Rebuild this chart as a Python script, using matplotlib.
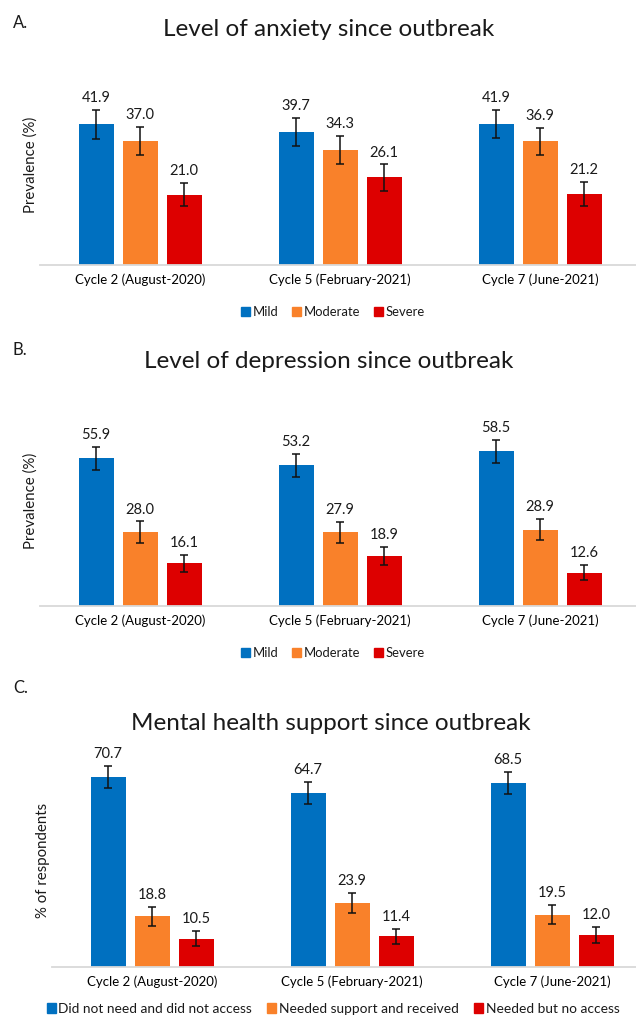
import matplotlib.pyplot as plt
import numpy as np
from matplotlib.patches import Patch

plt.rcParams["font.family"] = ["Lato", "DejaVu Sans"]
plt.rcParams["text.color"] = "#1a1a1a"

cycles = ["Cycle 2 (August-2020)", "Cycle 5 (February-2021)", "Cycle 7 (June-2021)"]
colors = ["#0070C0", "#F9812A", "#DD0000"]

# A. anxiety
anx_labels = ["Mild", "Moderate", "Severe"]
anx_mild = [41.9, 39.7, 41.9]
anx_moderate = [37.0, 34.3, 36.9]
anx_severe = [21.0, 26.1, 21.2]
anx_mild_err = [4.3, 4.2, 4.2]
anx_moderate_err = [4.2, 4.1, 4.0]
anx_severe_err = [3.5, 3.9, 3.5]

# B. depression
dep_labels = ["Mild", "Moderate", "Severe"]
dep_mild = [55.9, 53.2, 58.5]
dep_moderate = [28.0, 27.9, 28.9]
dep_severe = [16.1, 18.9, 12.6]
dep_mild_err = [4.3, 4.3, 4.4]
dep_moderate_err = [4.0, 3.9, 3.9]
dep_severe_err = [3.2, 3.3, 2.9]

# C. mental health support
sup_labels = ["Did not need and did not access", "Needed support and received", "Needed but no access"]
sup_none = [70.7, 64.7, 68.5]
sup_received = [18.8, 23.9, 19.5]
sup_noaccess = [10.5, 11.4, 12.0]
sup_none_err = [4.1, 4.1, 4.1]
sup_received_err = [3.5, 3.7, 3.5]
sup_noaccess_err = [2.8, 2.7, 2.9]

W, H = 636, 1016
fig = plt.figure(figsize=(W / 100, H / 100), dpi=100)


def px_axes(left, base, width, height):
    return fig.add_axes([left / W, (H - base) / H, width / W, height / H])


def panel(ax, series, errs, ymax, xmax):
    x = np.arange(len(cycles))
    bw, off = 0.175, 0.22
    for i, (vals, err) in enumerate(zip(series, errs)):
        pos = x + (i - 1) * off
        ax.bar(pos, vals, bw, color=colors[i], yerr=err,
               error_kw=dict(ecolor="#111111", elinewidth=1.1, capsize=3, capthick=1.1))
        for p, v, e in zip(pos, vals, err):
            ax.annotate("%.1f" % v, (p, v + e), xytext=(0, 8.5), textcoords="offset points",
                        ha="center", va="center", fontsize=10.5)
    ax.set_xlim(-0.5, xmax)
    ax.set_ylim(0, ymax)
    ax.set_xticks(x)
    ax.set_xticklabels(cycles, fontsize=9.5)
    ax.tick_params(axis="x", length=0, pad=6)
    ax.set_yticks([])
    for s in ["top", "right", "left"]:
        ax.spines[s].set_visible(False)
    ax.spines["bottom"].set_color("#D9D9D9")
    ax.spines["bottom"].set_linewidth(1.3)


def legend(labels, y, size):
    handles = [Patch(color=c, label=l) for c, l in zip(colors, labels)]
    fig.legend(handles=handles, loc="center", bbox_to_anchor=(333 / W, 1 - y / H), ncol=3,
               frameon=False, fontsize=size, handlelength=0.65, handleheight=0.7,
               handletextpad=0.2, columnspacing=1.1)


def txt(x, y, s, **kw):
    fig.text(x / W, 1 - y / H, s, **kw)


# panel A
axA = px_axes(40, 265, 596, 200)
panel(axA, [anx_mild, anx_moderate, anx_severe],
      [anx_mild_err, anx_moderate_err, anx_severe_err], 59.6, 2.48)
txt(13, 23, "A.", fontsize=12, va="center")
txt(329, 30, "Level of anxiety since outbreak", fontsize=17.5, ha="center", va="center")
txt(31, 165, "Prevalence (%)", fontsize=10.8, rotation=90, ha="center", va="center")
legend(anx_labels, 312, 9.4)

# panel B
axB = px_axes(40, 606, 596, 210)
panel(axB, [dep_mild, dep_moderate, dep_severe],
      [dep_mild_err, dep_moderate_err, dep_severe_err], 79.4, 2.48)
txt(13, 350, "B.", fontsize=12, va="center")
txt(329, 362, "Level of depression since outbreak", fontsize=17.5, ha="center", va="center")
txt(31, 501, "Prevalence (%)", fontsize=10.8, rotation=90, ha="center", va="center")
legend(dep_labels, 653, 9.4)

# panel C
axC = px_axes(52, 967, 584, 214)
panel(axC, [sup_none, sup_received, sup_noaccess],
      [sup_none_err, sup_received_err, sup_noaccess_err], 79.5, 2.42)
txt(13, 688, "C.", fontsize=12, va="center")
txt(331, 724, "Mental health support since outbreak", fontsize=17.5, ha="center", va="center")
txt(43, 860, "% of respondents", fontsize=10.8, rotation=90, ha="center", va="center")
legend(sup_labels, 1009, 9.9)

fig.savefig("out.png", dpi=100, facecolor="white")
